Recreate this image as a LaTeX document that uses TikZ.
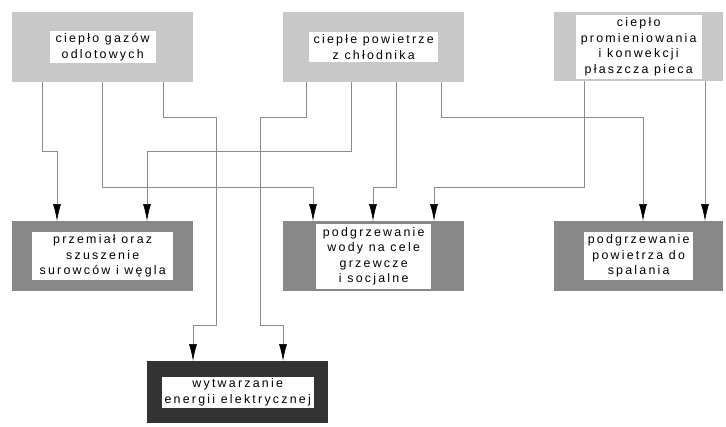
\documentclass[tikz,border=0pt]{standalone}
\usepackage{fontspec}
\setmainfont{Liberation Sans}[LetterSpace=18]
\usetikzlibrary{arrows.meta}
\definecolor{topgray}{HTML}{C8C8C8}
\definecolor{midgray}{HTML}{888888}
\definecolor{darkbox}{HTML}{333333}
\definecolor{linegray}{HTML}{8C8C8C}
\begin{document}
\begin{tikzpicture}[x=1pt, y=-1pt]
	\tikzset{src/.style={fill=topgray, draw=none, inner sep=0, anchor=north west},
		tgt/.style={fill=midgray, draw=none, inner sep=0, anchor=north west},
		txt/.style={fill=white, align=center, inner sep=1pt, font=\fontsize{12.4}{15.5}\selectfont},
		flow/.style={draw=linegray, line width=0.7pt, -{Latex[color=black, length=17pt, width=8pt]}}};

	\useasboundingbox (0,0) rectangle (726,426);

	% zrodla ciepla
	\node[src, minimum width=181, minimum height=70] (gaz) at (12,12) {};
	\node[src, minimum width=181, minimum height=70] (chlod) at (283,12) {};
	\node[src, minimum width=169, minimum height=69] (plaszcz) at (554,12) {};

	\node[txt, minimum width=106, minimum height=32] (gazT) at (gaz) {ciepło gazów\\odlotowych};
	\node[txt, minimum width=129, minimum height=30] (chlodT) at (chlod) {ciepłe powietrze\\z chłodnika};
	\node[txt, minimum width=126, minimum height=64] (plaszczT) at (plaszcz) {ciepło\\promieniowania\\i konwekcji\\płaszcza pieca};

	% odbiorniki
	\node[tgt, minimum width=181, minimum height=70] (przem) at (12,221) {};
	\node[tgt, minimum width=181, minimum height=70] (woda) at (283,221) {};
	\node[tgt, minimum width=169, minimum height=70] (spal) at (554,221) {};
	\node[tgt, fill=darkbox, minimum width=181, minimum height=62] (energ) at (147,361) {};

	\node[txt, minimum width=141, minimum height=48] (przemT) at (przem) {przemiał oraz\\szuszenie\\surowców i węgla};
	\node[txt, minimum width=115, minimum height=65] (wodaT) at (woda) {podgrzewanie\\wody na cele\\grzewcze\\i socjalne};
	\node[txt, minimum width=109, minimum height=48] (spalT) at (spal) {podgrzewanie\\powietrza do\\spalania};
	\node[txt, minimum width=152, minimum height=31] (energT) at (energ) {wytwarzanie\\energii elektrycznej};

	\draw[flow] ([xshift=30]gaz.south west) |- (57,151) -- ([xshift=45]przem.north west);
	\draw[flow] ([xshift=90]gaz.south west) |- (313,187) -- ([xshift=30]woda.north west);
	\draw[flow] ([xshift=151]gaz.south west) |- (216,117) -- (216,325) -| ([xshift=46]energ.north west);

	\draw[flow] ([xshift=23]chlod.south west) |- (260,117) -- (260,325) -| ([xshift=136]energ.north west);
	\draw[flow] ([xshift=68]chlod.south west) |- (147,151) -- ([xshift=135]przem.north west);
	\draw[flow] ([xshift=113]chlod.south west) |- (373,187) -- ([xshift=90]woda.north west);
	\draw[flow] ([xshift=158]chlod.south west) |- (643,117) -- ([xshift=89]spal.north west);

	\draw[flow] ([xshift=30]plaszcz.south west) |- (434,187) -- ([xshift=151]woda.north west);
	\draw[flow] ([xshift=151]plaszcz.south west) -- ([xshift=151]spal.north west);

\end{tikzpicture}
\end{document}
